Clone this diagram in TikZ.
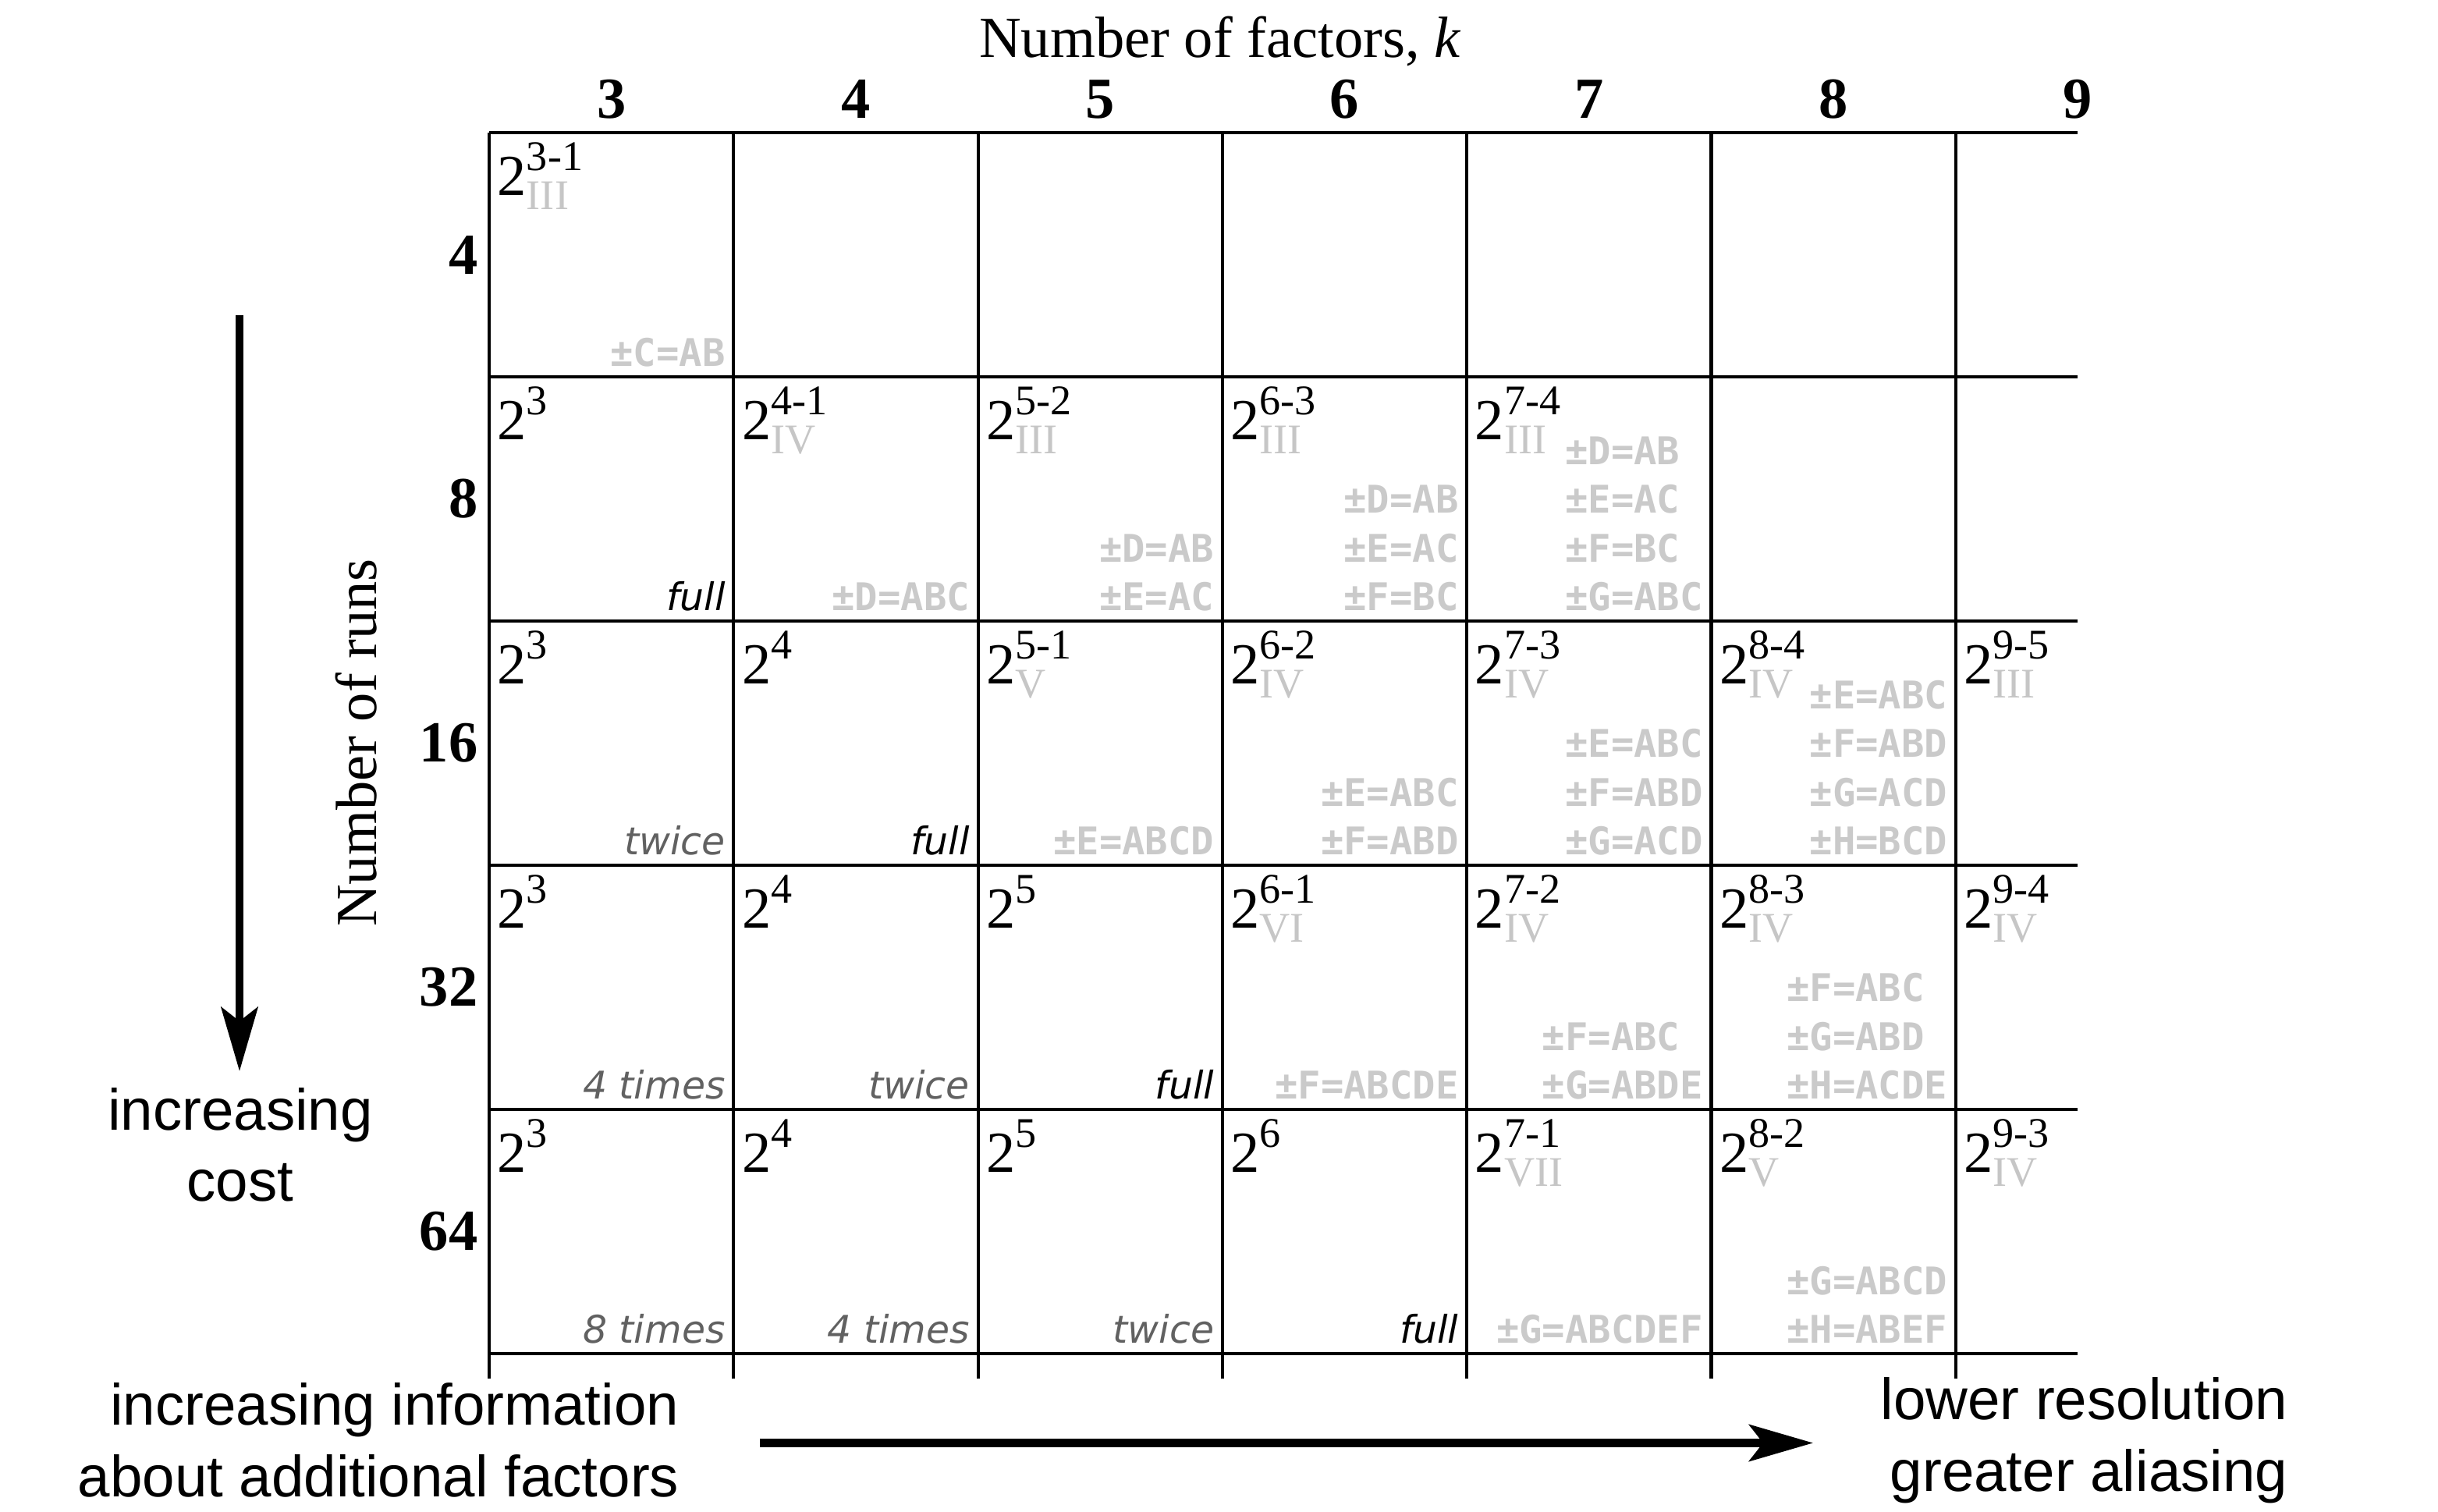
\documentclass[tikz,border=0pt]{standalone}
\usepackage{fontspec}
\setmainfont{Liberation Serif}
\newfontfamily\sansfont{Liberation Sans}
\newfontfamily\genfont{DejaVu Sans Mono}
\newfontfamily\notefont{DejaVu Sans}
\usetikzlibrary{arrows.meta}
\definecolor{romgray}{HTML}{C6C6C6}
\definecolor{gengray}{HTML}{CACACA}
\definecolor{repgray}{HTML}{616161}
\newcommand{\headfont}{\fontsize{21.2}{26}\selectfont}
\newcommand{\supfont}{\fontsize{15.4}{18}\selectfont}
\newcommand{\design}[2]{2\rlap{\raisebox{3.2mm}{\supfont #1}}\raisebox{-1.85mm}{\supfont\color{romgray}#2}}

\begin{document}
\begin{tikzpicture}[
      hline/.style={line width=1.3pt},
      vline/.style={line width=1.15pt},
      trend/.style={line width=2.85pt,-{Stealth[length=8.2mm,width=4.7mm,inset=1.8mm]}},
      axistitle/.style={font=\headfont,inner sep=0pt,anchor=base},
      colhead/.style={font=\headfont\bfseries,anchor=base,inner sep=0pt},
      rowhead/.style={font=\headfont\bfseries,anchor=east,inner sep=0pt},
      trendlabel/.style={font=\sansfont\headfont,inner sep=0pt,text depth=0pt},
      designlbl/.style={font=\headfont,anchor=base west,inner sep=0pt},
      generators/.style={font=\genfont\bfseries\fontsize{13.9}{17.7}\selectfont,text=gengray,align=left,anchor=south east,inner sep=0pt,text depth=0pt},
      replic/.style={font=\notefont\itshape\fontsize{13.9}{17}\selectfont,text=repgray,anchor=south east,inner sep=0pt,text depth=0pt},
      fullrep/.style={replic,text=black}
      ]

      \useasboundingbox (0,0) rectangle (31.25,-19.38);

      % Grille
      \foreach \r in {0,...,5}
        \draw[hline] (6.27,{-1.70-\r*3.13}) -- (26.63,{-1.70-\r*3.13});
      \foreach \c in {0,...,6}
        \draw[vline] ({6.27+\c*3.133},-1.70) -- ({6.27+\c*3.133},-17.67);

      \foreach \k [count=\c from 0] in {3,...,9} {
        \node[colhead] (k\k) at ({7.8365+\c*3.133},-1.517) {\k};
        \foreach \n [count=\r from 0] in {4,8,16,32,64} {
          \coordinate (lab-\k-\n) at ({6.37+\c*3.133},{-2.505-\r*3.13});
          \coordinate (note-\k-\n) at ({9.303+\c*3.133},{-4.70-\r*3.13});
        }
      }
      \foreach \n [count=\r from 0] in {4,8,16,32,64}
        \node[rowhead] (n\n) at (6.13,{-3.265-\r*3.13}) {\n};

      \node[axistitle] (ktitle) at (15.64,-0.74) {Number of factors, \textit{k}};
      \node[axistitle,rotate=90] (ntitle) at (4.82,-9.52) {Number of runs};

      % 4 runs
      \node[designlbl] (d-3-4) at (lab-3-4) {\design{3-1}{III}};
      \node[generators] (g-3-4) at (note-3-4) {±C=AB};

      % 8 runs
      \node[designlbl] (d-3-8) at (lab-3-8) {\design{3}{}};
      \node[fullrep] (r-3-8) at (note-3-8) {full};
      \node[designlbl] (d-4-8) at (lab-4-8) {\design{4-1}{IV}};
      \node[generators] (g-4-8) at (note-4-8) {±D=ABC};
      \node[designlbl] (d-5-8) at (lab-5-8) {\design{5-2}{III}};
      \node[generators] (g-5-8) at (note-5-8) {±D=AB\\±E=AC};
      \node[designlbl] (d-6-8) at (lab-6-8) {\design{6-3}{III}};
      \node[generators] (g-6-8) at (note-6-8) {±D=AB\\±E=AC\\±F=BC};
      \node[designlbl] (d-7-8) at (lab-7-8) {\design{7-4}{III}};
      \node[generators] (g-7-8) at (note-7-8) {±D=AB\\±E=AC\\±F=BC\\±G=ABC};

      % 16 runs
      \node[designlbl] (d-3-16) at (lab-3-16) {\design{3}{}};
      \node[replic] (r-3-16) at (note-3-16) {twice};
      \node[designlbl] (d-4-16) at (lab-4-16) {\design{4}{}};
      \node[fullrep] (r-4-16) at (note-4-16) {full};
      \node[designlbl] (d-5-16) at (lab-5-16) {\design{5-1}{V}};
      \node[generators] (g-5-16) at (note-5-16) {±E=ABCD};
      \node[designlbl] (d-6-16) at (lab-6-16) {\design{6-2}{IV}};
      \node[generators] (g-6-16) at (note-6-16) {±E=ABC\\±F=ABD};
      \node[designlbl] (d-7-16) at (lab-7-16) {\design{7-3}{IV}};
      \node[generators] (g-7-16) at (note-7-16) {±E=ABC\\±F=ABD\\±G=ACD};
      \node[designlbl] (d-8-16) at (lab-8-16) {\design{8-4}{IV}};
      \node[generators] (g-8-16) at (note-8-16) {±E=ABC\\±F=ABD\\±G=ACD\\±H=BCD};
      \node[designlbl] (d-9-16) at (lab-9-16) {\design{9-5}{III}};

      % 32 runs
      \node[designlbl] (d-3-32) at (lab-3-32) {\design{3}{}};
      \node[replic] (r-3-32) at (note-3-32) {4 times};
      \node[designlbl] (d-4-32) at (lab-4-32) {\design{4}{}};
      \node[replic] (r-4-32) at (note-4-32) {twice};
      \node[designlbl] (d-5-32) at (lab-5-32) {\design{5}{}};
      \node[fullrep] (r-5-32) at (note-5-32) {full};
      \node[designlbl] (d-6-32) at (lab-6-32) {\design{6-1}{VI}};
      \node[generators] (g-6-32) at (note-6-32) {±F=ABCDE};
      \node[designlbl] (d-7-32) at (lab-7-32) {\design{7-2}{IV}};
      \node[generators] (g-7-32) at (note-7-32) {±F=ABC\\±G=ABDE};
      \node[designlbl] (d-8-32) at (lab-8-32) {\design{8-3}{IV}};
      \node[generators] (g-8-32) at (note-8-32) {±F=ABC\\±G=ABD\\±H=ACDE};
      \node[designlbl] (d-9-32) at (lab-9-32) {\design{9-4}{IV}};

      % 64 runs
      \node[designlbl] (d-3-64) at (lab-3-64) {\design{3}{}};
      \node[replic] (r-3-64) at (note-3-64) {8 times};
      \node[designlbl] (d-4-64) at (lab-4-64) {\design{4}{}};
      \node[replic] (r-4-64) at (note-4-64) {4 times};
      \node[designlbl] (d-5-64) at (lab-5-64) {\design{5}{}};
      \node[replic] (r-5-64) at (note-5-64) {twice};
      \node[designlbl] (d-6-64) at (lab-6-64) {\design{6}{}};
      \node[fullrep] (r-6-64) at (note-6-64) {full};
      \node[designlbl] (d-7-64) at (lab-7-64) {\design{7-1}{VII}};
      \node[generators] (g-7-64) at (note-7-64) {±G=ABCDEF};
      \node[designlbl] (d-8-64) at (lab-8-64) {\design{8-2}{V}};
      \node[generators] (g-8-64) at (note-8-64) {±G=ABCD\\±H=ABEF};
      \node[designlbl] (d-9-64) at (lab-9-64) {\design{9-3}{IV}};

      % Fleches
      \coordinate (cost-from) at (3.07,-4.04);
      \coordinate (cost-to) at (3.07,-13.73);
      \draw[trend] (cost-from) -- (cost-to);
      \node[trendlabel,align=center,anchor=south] (cost) at (3.08,-15.406) {increasing\\cost};

      \coordinate (alias-from) at (9.74,-18.495);
      \coordinate (alias-to) at (23.24,-18.495);
      \draw[trend] (alias-from) -- (alias-to);
      \node[trendlabel,align=right,anchor=south east] (info) at (8.71,-19.19) {increasing information\\about additional factors};
      \node[trendlabel,align=right,anchor=south east] (alias) at (29.33,-19.12) {lower resolution\\greater aliasing};
    \end{tikzpicture}
\end{document}
